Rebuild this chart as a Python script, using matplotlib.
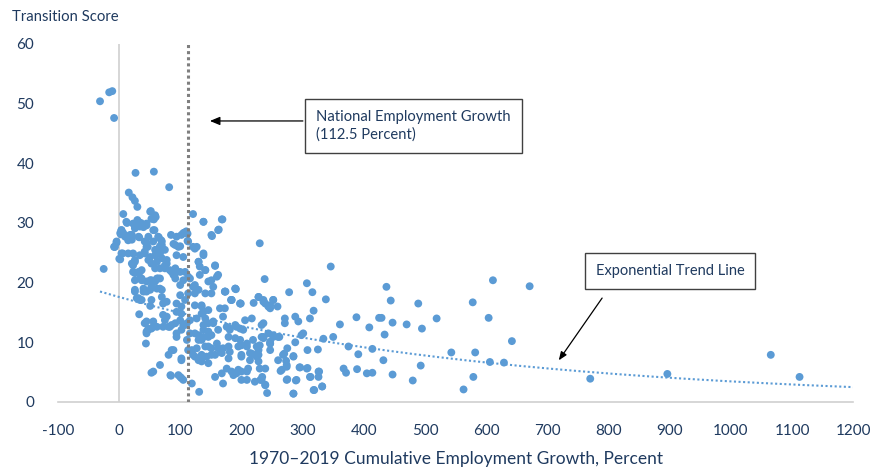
import numpy as np
import matplotlib
matplotlib.use("Agg")
import matplotlib.pyplot as plt

# employment growth 1970-2019 (percent) and transition score
growth = [-31, -16, -11, -8, 27, 57, 82, 16, 22, 26, 30, 7, 52, 60, 57, 121, 138, 169, 163, 152, 230,
          12, 30, 36, 45, 40, 26, 58, 4, 7, 3, 18, 13, 21, 33, 65, 69, 85, 102, 107, 112, 112, -4, -8,
          45, 47, 67, 89, 100, 121, 127,
          -25, -7, 0.5, 6, 23, 26, 23, 34, 42, 51, 53, 59, 67, 70, 75, 78, 67, 59,
          26, 34, 37, 45, 53, 62, 67, 26, 40, 51, 62, 70, 32, 37, 33, 51, 72, 78,
          45, 48, 45, 53, 62, 56, 72, 78, 72, 81, 86, 44, 94, 81, 86, 67, 56, 53, 84, 100, 102, 119, 131, 102,
          83, 92, 100, 92, 105, 100, 94, 102, 108, 94, 102, 100, 105, 111, 116, 111, 113, 121, 127, 130, 135,
          138, 130, 132, 141, 157, 113, 124, 130, 141, 132, 146, 160, 154, 151, 173, 190, 184, 198,
          135, 138, 141, 138, 146, 154, 146, 165, 173, 170, 138, 151, 160, 151, 141, 157, 143, 135, 146,
          170, 181, 179, 181, 190, 203, 206, 217, 179, 198, 209, 219, 225, 233, 214, 228, 247,
          157, 168, 176, 187, 195, 209, 170, 209, 222, 239, 242, 238, 228, 236, 247, 252, 233, 247, 239,
          346, 307, 316, 278, 338, 318, 312, 288, 293, 271, 271, 252, 259, 228, 236, 244, 220, 199, 183, 191, 174,
          361, 388, 409, 425, 334, 350, 375, 391, 414, 288, 298, 301, 308, 325, 275, 285, 247, 236, 252, 262,
          230, 228, 225, 214, 217, 209, 200, 200, 260, 270, 273, 274, 264, 275, 289,
          295, 308, 313, 327, 326, 332, 319, 285, 239, 231, 234, 367, 371, 389, 405, 414,
          437, 444, 489, 429, 447, 470, 495, 434, 519, 432, 493, 447, 480,
          611, 671, 578, 604, 642, 543, 582, 606, 629, 579, 563, 770, 896, 1065, 1112,
          13, 4, 2, 10, 15, -4, -7, 4, 2, 21, 26, 23, 26, 34, 37, 40, 26, 29, 34, 45, 53, 59, 51, 64, 67, 70, 53,
          23, 32, 40, 45, 26, 34, 56, 53, 59, 51, 21, 32, 48, 42, 45, 56, 64, 70, 67, 75, 59,
          15, 42, 48, 62, 70, 78, 75, 86, 94, 92, 97, 105, 110, 113, 94, 105, 124, 138, 130, 141, 157, 151, 162,
          173, 190, 184, 198, 138, 151, 162, 168, 92, 89, 108, 100, 116, 121, 113, 124, 32, 37,
          42, 48, 56, 45, 89, 85, 102, 97, 105, 75, 83, 92, 94, 102, 108, 116, 124, 130, 138, 146, 154, 162, 176,
          119, 124, 130, 135, 146, 151, 162, 168, 179, 195, 200, 190, 181, 192, 124, 135, 146, 135, 127, 184, 192, 200,
          239, 247, 198, 236, 244, 252, 260, 236, 247, 222, 228, 211, 200, 233, 230,
          268, 274, 266, 285, 296, 307, 312, 326, 290, 274, 285, 318, 332]
score = [50.4, 51.9, 52.1, 47.6, 38.4, 38.6, 36.0, 35.1, 34.3, 33.7, 32.7, 31.5, 32.0, 31.0, 30.6, 31.5, 30.2, 30.6, 28.9, 27.8, 26.6,
         30.2, 30.5, 30.0, 29.6, 29.3, 29.4, 28.8, 28.8, 28.3, 28.1, 28.0, 27.7, 27.2, 27.6, 27.6, 27.1, 28.0, 28.0, 28.4, 28.2, 27.0, 26.7, 26.0,
         26.7, 26.0, 26.1, 26.5, 26.1, 26.0, 26.0,
         22.3, 26.0, 24.0, 24.9, 24.9, 23.8, 22.9, 24.6, 25.2, 24.3, 23.2, 24.6, 24.9, 26.3, 22.9, 23.8, 22.4, 22.4,
         21.6, 21.8, 20.7, 20.2, 20.4, 20.7, 20.7, 18.5, 18.5, 18.8, 19.0, 18.8, 17.4, 17.1, 14.7, 16.1, 16.5, 16.8,
         13.5, 12.3, 11.8, 12.3, 12.6, 13.5, 14.6, 14.3, 12.6, 12.6, 12.9, 9.8, 10.9, 7.9, 8.7, 6.2, 5.1, 4.9, 4.5, 4.2, 4.0, 3.1, 1.7, 7.3,
         22.1, 21.6, 21.8, 20.7, 20.4, 17.9, 16.5, 16.0, 17.1, 15.1, 14.8, 13.7, 12.9, 13.2, 13.7, 10.4, 8.7, 7.9, 9.0, 11.2, 10.4,
         24.6, 23.5, 22.7, 22.1, 22.8, 21.0, 19.6, 18.8, 18.2, 21.3, 20.2, 21.0, 19.3, 18.2, 18.5, 19.0, 17.1, 16.5,
         16.2, 15.1, 14.0, 12.9, 13.2, 13.5, 11.8, 15.7, 15.7, 14.3, 10.9, 11.2, 9.8, 9.0, 9.3, 7.9, 7.6, 6.8, 6.5,
         9.0, 8.4, 7.3, 12.3, 12.9, 12.1, 13.7, 14.0, 10.9, 10.4, 9.8, 10.4, 9.3, 10.9, 8.2, 7.9, 8.7,
         4.2, 4.8, 5.6, 4.5, 5.4, 5.1, 3.1, 3.7, 3.4, 2.8, 1.5, 20.6, 17.6, 17.1, 16.2, 17.1, 12.9, 10.1, 5.6,
         22.7, 19.9, 18.4, 18.4, 17.2, 15.3, 14.0, 14.3, 13.5, 14.0, 13.2, 17.1, 16.0, 17.6, 16.8, 16.0, 16.6, 16.5, 17.1, 18.9, 18.5,
         13.0, 14.2, 12.5, 14.1, 10.6, 10.9, 9.3, 8.0, 8.9, 10.0, 11.2, 11.5, 8.7, 8.8, 9.0, 7.7, 9.8, 10.9, 10.9, 10.9,
         9.5, 8.7, 7.6, 7.0, 8.1, 9.3, 7.9, 9.5, 7.0, 8.1, 6.9, 6.2, 5.2, 3.8, 3.6,
         5.8, 5.7, 4.2, 5.1, 4.2, 2.6, 2.0, 1.4, 2.9, 3.7, 4.2, 5.6, 4.9, 5.5, 4.8, 4.9,
         19.3, 17.0, 16.5, 14.1, 13.3, 13.0, 12.3, 11.3, 14.0, 7.0, 6.1, 4.6, 3.6,
         20.4, 19.4, 16.7, 14.1, 10.2, 8.3, 8.3, 6.7, 6.6, 4.2, 2.1, 3.9, 4.7, 7.9, 4.2,
         30.0, 28.8, 28.3, 27.7, 27.1, 26.9, 26.0, 24.9, 23.9, 23.2, 23.5, 21.8, 20.4, 20.7, 22.1, 19.0, 18.8, 17.4, 17.1, 18.5, 19.3, 20.2, 20.4, 20.7, 19.0, 17.6, 17.1,
         29.9, 30.2, 29.6, 29.9, 29.1, 29.4, 28.8, 30.7, 31.3, 31.9, 28.0, 27.7, 27.7, 26.9, 26.0, 26.9, 27.7, 26.9, 26.0, 25.5, 25.5,
         24.9, 24.9, 23.8, 23.5, 24.1, 23.2, 22.4, 21.8, 27.7, 26.3, 26.0, 28.3, 28.6, 26.9, 24.6, 24.3, 25.7, 24.9, 23.5, 22.1, 22.9, 20.4, 21.3,
         18.5, 19.0, 17.1, 16.5, 30.2, 28.0, 28.8, 30.6, 22.4, 21.3, 21.8, 19.6, 20.7, 19.3, 18.2, 18.2, 21.8, 20.4,
         13.2, 12.1, 12.6, 11.5, 8.7, 4.4, 7.0, 4.5, 3.7, 13.7, 12.6, 13.2, 11.5, 12.1, 12.9, 11.5, 11.5, 10.4, 12.1, 10.9, 13.2, 12.1, 12.6,
         8.7, 7.6, 7.0, 7.9, 9.3, 7.9, 9.0, 8.2, 9.3, 9.3, 7.6, 10.7, 12.1, 12.6, 16.2, 16.0, 15.4, 14.8, 14.0, 5.1, 4.8, 3.7,
         16.5, 15.7, 12.3, 13.2, 11.5, 11.2, 10.9, 10.7, 9.8, 7.9, 6.8, 5.6, 5.1, 3.7, 5.6,
         7.9, 5.9, 5.4, 7.6, 5.8, 5.6, 4.2, 5.1, 3.7, 3.7, 1.4, 2.0, 2.6]

national_growth = 112.5
# exponential trend line y = a * exp(b * x), coefficients
trend_a = 17.6
trend_b = -0.00163
x_ticks = list(range(-100, 1201, 100))
y_ticks = list(range(0, 61, 10))

blue = '#5B9BD5'
navy = '#1F3A5F'

plt.rcParams['font.family'] = ['Lato', 'DejaVu Sans']
plt.rcParams['axes.unicode_minus'] = False

fig = plt.figure(figsize=(8.85, 4.69), dpi=100)
ax = fig.add_axes([0.0653, 0.1429, 0.899, 0.7633])

ax.scatter(growth, score, s=32, color=blue, edgecolors='none', zorder=3)

xt = np.linspace(min(growth), 1200, 300)
ax.plot(xt, trend_a * np.exp(trend_b * xt), linestyle=(0, (1, 1.2)), color=blue, lw=1.5, zorder=2)

ax.axvline(national_growth, color='#7F7F7F', linestyle=(0, (1, 1)), lw=2.2, zorder=4)
ax.axvline(0, color='#D0D0D0', lw=1.2, zorder=1)

ax.set_xlim(-100, 1200)
ax.set_ylim(0, 60)
ax.set_xticks(x_ticks)
ax.set_yticks(y_ticks)
for s in ['top', 'right', 'left']:
    ax.spines[s].set_visible(False)
ax.spines['bottom'].set_color('#D0D0D0')
ax.spines['bottom'].set_linewidth(1.2)
ax.tick_params(axis='both', length=0, labelsize=11, labelcolor=navy)
ax.tick_params(axis='x', pad=16)
ax.tick_params(axis='y', pad=17)
ax.set_xlabel('1970\u20132019 Cumulative Employment Growth, Percent', fontsize=12.5, color=navy, labelpad=9)
fig.text(12 / 885, 1 - 17 / 469, 'Transition Score', fontsize=10.7, color=navy, va='center', ha='left')

# annotations
ax.annotate('', xy=(144, 47.1), xytext=(305, 47.1),
            arrowprops=dict(arrowstyle='-|>,head_length=0.6,head_width=0.25', color='black', lw=0.9))
ax.text(322, 46.3, 'National Employment Growth\n(112.5 Percent)', fontsize=10.6, color=navy,
        va='center', ha='left', linespacing=1.35,
        bbox=dict(boxstyle='square,pad=0.75', fc='white', ec='#404040', lw=1))

ax.annotate('', xy=(716, 6.6), xytext=(792, 17.8),
            arrowprops=dict(arrowstyle='-|>,head_length=0.5,head_width=0.2', color='black', lw=0.9))
ax.text(779, 22.0, 'Exponential Trend Line', fontsize=10.5, color=navy, va='center', ha='left',
        bbox=dict(boxstyle='square,pad=0.75', fc='white', ec='#404040', lw=1))

fig.savefig('out.png', dpi=100)
